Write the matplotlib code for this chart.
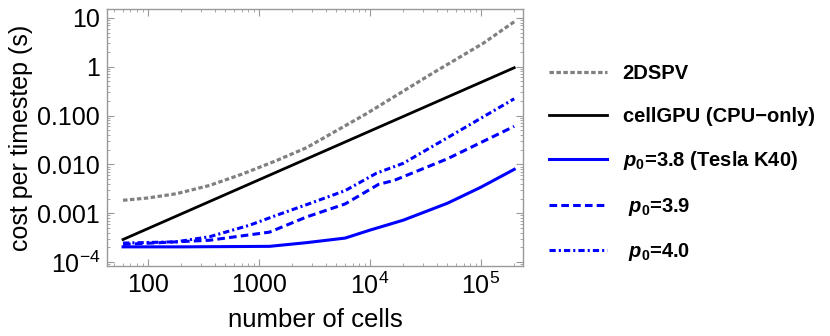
import matplotlib
matplotlib.use("Agg")
import matplotlib.pyplot as plt
from matplotlib.ticker import FixedLocator, FixedFormatter, LogLocator, NullFormatter

plt.rcParams["font.family"] = ["Liberation Sans", "DejaVu Sans"]
plt.rcParams["mathtext.fontset"] = "custom"
plt.rcParams["mathtext.rm"] = "Liberation Sans"
plt.rcParams["mathtext.it"] = "Liberation Sans:italic"
plt.rcParams["mathtext.bf"] = "Liberation Sans:bold"
plt.rcParams["mathtext.bfit"] = "Liberation Sans:bold:italic"
plt.rcParams["lines.scale_dashes"] = False

# number of cells vs cost per timestep (s)
n_spv = [60, 100, 180, 360, 720, 1450, 2700, 9400, 37000, 105000, 200000]
t_spv = [1.84e-3, 2.05e-3, 2.5e-3, 3.7e-3, 6.4e-3, 0.012, 0.022, 0.11, 0.74, 3.0, 8.3]

n_cpu = [60, 200000]
t_cpu = [2.9e-4, 0.95]

n_p38 = [60, 200, 1250, 2700, 6000, 10000, 20000, 50000, 100000, 200000]
t_p38 = [2.05e-4, 2.05e-4, 2.1e-4, 2.5e-4, 3.1e-4, 4.5e-4, 7.2e-4, 1.6e-3, 3.4e-3, 7.9e-3]

n_p39 = [60, 360, 1250, 2700, 6000, 12000, 16600, 50000, 200000]
t_p39 = [2.3e-4, 2.8e-4, 4.1e-4, 8.4e-4, 1.55e-3, 3.9e-3, 4.7e-3, 1.3e-2, 0.06]

n_p40 = [60, 180, 360, 830, 1450, 2700, 6000, 11500, 20000, 50000, 200000]
t_p40 = [2.45e-4, 2.6e-4, 3.3e-4, 5.7e-4, 9.1e-4, 1.5e-3, 2.9e-3, 6.6e-3, 1.05e-2, 3.5e-2, 0.22]

labels = ["2DSPV", "cellGPU (CPU\u2212only)",
          r"$\mathbfit{p}_{\mathbf{0}}$=3.8 (Tesla K40)",
          r" $\mathbfit{p}_{\mathbf{0}}$=3.9",
          r" $\mathbfit{p}_{\mathbf{0}}$=4.0"]

y_ticks = [1e-4, 1e-3, 1e-2, 1e-1, 1, 10]
y_tick_labels = [r"$10^{-4}$", "0.001", "0.010", "0.100", "1", "10"]
x_ticks = [100, 1000, 1e4, 1e5]
x_tick_labels = ["100", "1000", r"$10^4$", r"$10^5$"]

fig = plt.figure(figsize=(8.3, 3.36), dpi=100)
ax = fig.add_axes([107 / 830, 1 - 266 / 336, 416 / 830, 257 / 336])

ax.plot(n_spv, t_spv, color="#808080", lw=2.3, ls=(0, (3.2, 1.8)), label=labels[0])
ax.plot(n_cpu, t_cpu, color="black", lw=2.0, label=labels[1])
ax.plot(n_p38, t_p38, color="#0000ff", lw=2.2, label=labels[2])
ax.plot(n_p39, t_p39, color="#0000ff", lw=2.2, ls=(0, (5.5, 3.0)), label=labels[3])
ax.plot(n_p40, t_p40, color="#0000ff", lw=2.2, ls=(0, (4.5, 2.2, 1.5, 2.2)), label=labels[4])

ax.set_xscale("log")
ax.set_yscale("log")
ax.set_xlim(43, 2.4e5)
ax.set_ylim(10 ** -4.08, 10 ** 1.18)

ax.yaxis.set_major_locator(FixedLocator(y_ticks))
ax.yaxis.set_major_formatter(FixedFormatter(y_tick_labels))
ax.xaxis.set_major_locator(FixedLocator(x_ticks))
ax.xaxis.set_major_formatter(FixedFormatter(x_tick_labels))
ax.xaxis.set_minor_locator(LogLocator(base=10, subs=range(2, 10), numticks=20))
ax.yaxis.set_minor_locator(LogLocator(base=10, subs=range(2, 10), numticks=20))
ax.xaxis.set_minor_formatter(NullFormatter())
ax.yaxis.set_minor_formatter(NullFormatter())

for s in ax.spines.values():
    s.set_color("#999999")
    s.set_linewidth(1.0)
ax.tick_params(which="both", direction="in", top=True, right=True, color="#999999",
               labelsize=18, pad=5)
ax.tick_params(which="major", length=5, width=0.8)
ax.tick_params(which="minor", length=2.5, width=0.6)

ax.set_xlabel("number of cells", fontsize=18.5, labelpad=6)
ax.set_ylabel("cost per timestep (s)", fontsize=18, labelpad=3)

leg = ax.legend(loc="upper left", bbox_to_anchor=(549 / 830, 1 - 64 / 336),
                bbox_transform=fig.transFigure, frameon=False,
                prop={"weight": "bold", "size": 14.5}, handlelength=2.9,
                handletextpad=0.75, labelspacing=1.17, borderpad=0, borderaxespad=0)

fig.savefig("out.png", dpi=100)
